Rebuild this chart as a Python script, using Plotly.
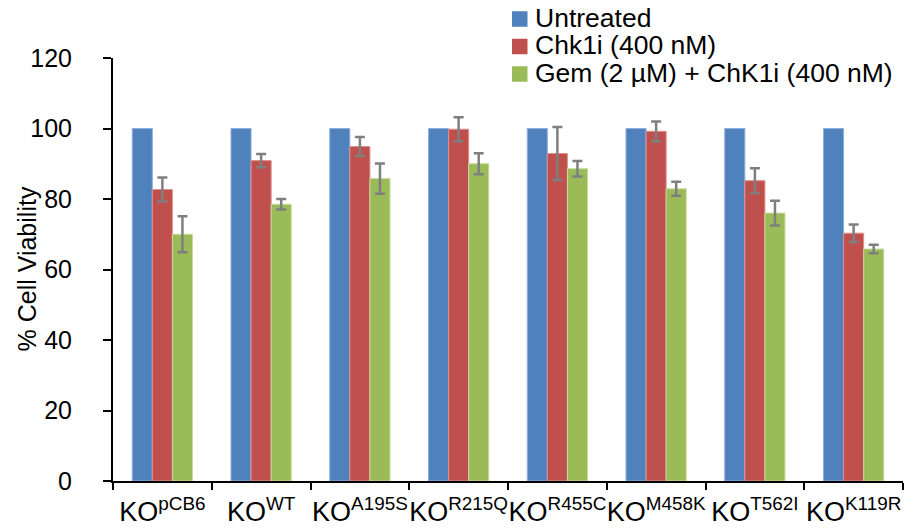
import plotly.graph_objects as go

categories = ["KO<sup>pCB6</sup>", "KO<sup>WT</sup>", "KO<sup>A195S</sup>", "KO<sup>R215Q</sup>",
              "KO<sup>R455C</sup>", "KO<sup>M458K</sup>", "KO<sup>T562I</sup>", "KO<sup>K119R</sup>"]
untreated = [100, 100, 100, 100, 100, 100, 100, 100]
chk1i = [82.7, 90.9, 94.9, 99.8, 92.9, 99.2, 85.2, 70.3]
chk1i_err = [3.4, 1.9, 2.7, 3.4, 7.5, 2.8, 3.5, 2.5]
gem_chk1i = [70.0, 78.5, 85.8, 90.0, 88.6, 82.9, 76.0, 65.8]
gem_chk1i_err = [5.1, 1.5, 4.3, 3.0, 2.2, 2.0, 3.5, 1.2]

names = ["Untreated", "Chk1i (400 nM)", "Gem (2 µM) + ChK1i (400 nM)"]
colors = ["#4F81BD", "#C0504D", "#9BBB59"]
edge = ["#8EAEDC", "#E0918F", "#C6DB9E"]
FONT = "Arial, Liberation Sans, sans-serif"

OFF = 8  # page body margin in the browser
W, H = 924 - OFF, 529 - OFF
ML, MT = 113 - OFF, 58 - OFF
MR, MB = W - (903 - OFF), H - (481 - OFF)
PW, PH = W - ML - MR, H - MT - MB

fig = go.Figure()
fig.add_trace(go.Bar(x=categories, y=untreated, name=names[0],
                     marker=dict(color=colors[0], line=dict(color=edge[0], width=1))))
fig.add_trace(go.Bar(x=categories, y=chk1i, name=names[1],
                     marker=dict(color=colors[1], line=dict(color=edge[1], width=1)),
                     error_y=dict(type="data", array=chk1i_err, color="#7F7F7F",
                                  thickness=2.5, width=5)))
fig.add_trace(go.Bar(x=categories, y=gem_chk1i, name=names[2],
                     marker=dict(color=colors[2], line=dict(color=edge[2], width=1)),
                     error_y=dict(type="data", array=gem_chk1i_err, color="#7F7F7F",
                                  thickness=2.5, width=5)))

# helpers: screen pixel -> paper coords
def px(xs):
    return (xs - OFF - ML) / PW

def py(ys):
    return (H - MB - (ys - OFF)) / PH

# manual legend
leg_sq_x0, leg_sq_size, leg_txt_x, leg_row0, leg_row_gap = 512, 15.5, 533, 19, 27.5
for i, (n, c) in enumerate(zip(names, colors)):
    cy = leg_row0 + i * leg_row_gap
    fig.add_shape(type="rect", xref="paper", yref="paper",
                  x0=px(leg_sq_x0), x1=px(leg_sq_x0 + leg_sq_size),
                  y0=py(cy + leg_sq_size / 2), y1=py(cy - leg_sq_size / 2),
                  fillcolor=c, line=dict(width=0))
    fig.add_annotation(x=px(leg_txt_x), y=py(cy - 1.5), xref="paper", yref="paper",
                       text=n, showarrow=False, xanchor="left", yanchor="middle",
                       font=dict(size=26.5, family=FONT, color="black"))

# y-axis title
fig.add_annotation(x=px(26), y=0.5, xref="paper", yref="paper",
                   text="% Cell Viability", textangle=-90, showarrow=False,
                   xanchor="center", yanchor="middle",
                   font=dict(size=25, family=FONT, color="black"))

fig.update_layout(
    width=W, height=H,
    margin=dict(l=ML, r=MR, t=MT, b=MB, autoexpand=False),
    paper_bgcolor="white", plot_bgcolor="white",
    font=dict(family=FONT, size=25, color="black"),
    barmode="group", bargap=0.39, bargroupgap=0,
    showlegend=False,
)
fig.update_xaxes(showline=True, linecolor="black", linewidth=2,
                 ticks="outside", tickson="boundaries", ticklen=7,
                 tickcolor="black", tickwidth=2, showgrid=False, tickangle=0,
                 ticklabelstandoff=6, tickfont=dict(size=27))
fig.update_yaxes(range=[0, 120], dtick=20, showline=True, linecolor="black",
                 linewidth=2, ticks="outside", ticklen=8, tickcolor="black",
                 tickwidth=2, showgrid=False, zeroline=False,
                 ticklabelstandoff=26, tickfont=dict(size=25))

fig.write_html("out.html")
